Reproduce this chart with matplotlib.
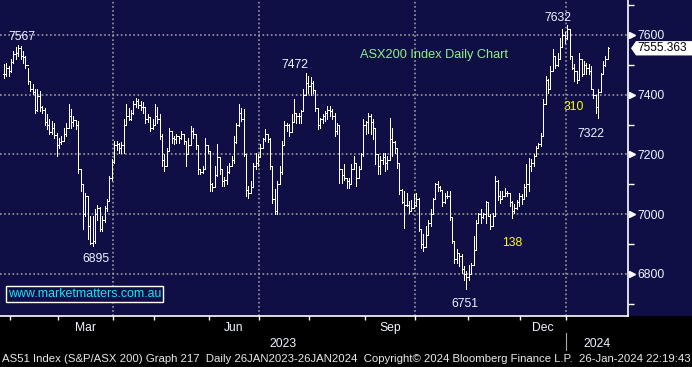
import matplotlib
matplotlib.use("Agg")
import matplotlib.pyplot as plt
import matplotlib.transforms as mtransforms
from matplotlib.collections import LineCollection
from matplotlib.patches import Polygon, Rectangle
import numpy as np
import pandas as pd

# ASX trading days: Australia Day, Easter, Anzac, King's birthday, Xmas, New Year off
HOLIDAYS = ["2023-04-07", "2023-04-10", "2023-04-25", "2023-06-12",
            "2023-12-25", "2023-12-26", "2024-01-01"]
dates = pd.bdate_range("2023-01-27", "2024-01-25", freq="C", holidays=HOLIDAYS)

highs = [
    7502, 7507, 7496, 7518, 7546, 7558, 7567, 7563, 7546, 7530,
    7490, 7445, 7435, 7418, 7418, 7412, 7362, 7356, 7334, 7317,
    7312, 7306, 7273, 7256, 7262, 7290, 7306, 7368, 7351, 7329,
    7315, 7312, 7150, 7100, 7072, 7060, 6993, 6993, 7016, 7030,
    7025, 6993, 7027, 7050, 7128, 7183, 7245, 7245, 7239, 7240,
    7320, 7368, 7357, 7350, 7380, 7390, 7385, 7378, 7375, 7360,
    7334, 7325, 7318, 7368, 7360, 7334, 7267, 7200, 7222, 7290,
    7280, 7262, 7267, 7262, 7278, 7270, 7245, 7256, 7295, 7289,
    7270, 7230, 7150, 7161, 7256, 7230, 7211, 7105, 7161, 7234,
    7190, 7150, 7125, 7161, 7172, 7194, 7262, 7306, 7368, 7356,
    7351, 7200, 7094, 7111, 7172, 7206, 7200, 7234, 7256, 7284,
    7270, 7256, 7161, 7083, 7111, 7161, 7245, 7312, 7306, 7301,
    7334, 7385, 7340, 7340, 7350, 7418, 7472, 7463, 7460, 7445,
    7415, 7356, 7323, 7334, 7345, 7362, 7362, 7351, 7340, 7306,
    7300, 7150, 7167, 7122, 7122, 7167, 7194, 7170, 7161, 7206,
    7318, 7312, 7340, 7334, 7317, 7290, 7200, 7194, 7206, 7206,
    7194, 7323, 7290, 7245, 7222, 7172, 7085, 7077, 7072, 7044,
    7049, 7066, 7070, 7055, 6950, 6932, 6960, 6982, 7016, 7055,
    7105, 7111, 7094, 7080, 7072, 7077, 7077, 6990, 6910, 6882,
    6870, 6865, 6826, 6810, 6831, 6837, 6926, 6982, 7005, 7016,
    7005, 7044, 7040, 6999, 7005, 7127, 7116, 7077, 7077, 7088, 7077,
    7072, 7044, 7033, 7049, 7072, 7066, 7100, 7167,
    7189, 7183, 7200, 7228, 7239, 7273, 7385, 7463, 7451, 7496,
    7552, 7530, 7541, 7591, 7619, 7610, 7632, 7620, 7530, 7502,
    7480, 7541, 7520, 7513, 7507, 7502, 7496, 7420, 7400, 7418,
    7474, 7513, 7530, 7558,
]
lows = [
    7457, 7462, 7463, 7475, 7505, 7518, 7530, 7518, 7507, 7490,
    7435, 7412, 7401, 7340, 7345, 7345, 7340, 7300, 7284, 7267,
    7270, 7256, 7195, 7222, 7234, 7245, 7262, 7290, 7290, 7295,
    7284, 7139, 7077, 6950, 6995, 6916, 6900, 6895, 6905, 6982,
    6943, 6945, 6975, 7010, 7045, 7116, 7172, 7215, 7205, 7205,
    7205, 7300, 7315, 7315, 7335, 7360, 7355, 7350, 7340, 7306,
    7310, 7278, 7284, 7300, 7306, 7250, 7161, 7144, 7160, 7210,
    7239, 7234, 7239, 7239, 7250, 7234, 7161, 7200, 7230, 7256,
    7217, 7133, 7133, 7139, 7150, 7206, 7077, 7077, 7090, 7128,
    7133, 7094, 7094, 7100, 7139, 7160, 7172, 7239, 7295, 7312,
    7195, 7060, 7055, 7070, 7090, 7150, 7161, 7190, 7220, 7245,
    7240, 7150, 7038, 7000, 7000, 7100, 7133, 7230, 7278, 7262,
    7275, 7310, 7306, 7306, 7306, 7345, 7400, 7407, 7400, 7405,
    7345, 7284, 7289, 7306, 7312, 7317, 7329, 7317, 7262, 7267,
    7105, 7105, 7116, 7088, 7088, 7100, 7150, 7094, 7120, 7150,
    7195, 7267, 7273, 7267, 7250, 7167, 7133, 7133, 7167, 7144,
    7150, 7180, 7195, 7206, 7155, 7066, 7038, 6955, 7027, 7005,
    7010, 7020, 7027, 6943, 6887, 6876, 6890, 6930, 6960, 7000,
    7050, 7077, 7077, 7027, 7038, 7055, 6982, 6904, 6837, 6837,
    6826, 6804, 6781, 6751, 6781, 6800, 6830, 6880, 6970, 6971,
    6988, 6971, 6993, 6949, 6960, 6995, 7049, 7038, 7050, 7060, 7060,
    7027, 6988, 7005, 7016, 7027, 7033, 7050, 7060,
    7077, 7144, 7161, 7194, 7220, 7228, 7262, 7370, 7407, 7420,
    7480, 7491, 7496, 7520, 7560, 7574, 7585, 7518, 7485, 7446,
    7440, 7450, 7463, 7468, 7468, 7468, 7418, 7390, 7340, 7322,
    7410, 7470, 7496, 7518,
]
closes = [
    7470, 7490, 7480, 7510, 7535, 7540, 7555, 7530, 7525, 7500,
    7445, 7420, 7410, 7350, 7395, 7360, 7350, 7310, 7300, 7275,
    7290, 7265, 7230, 7240, 7245, 7270, 7290, 7330, 7310, 7315,
    7300, 7150, 7100, 7000, 7060, 6960, 6905, 6910, 7000, 7020,
    6950, 6980, 7020, 7045, 7120, 7175, 7230, 7235, 7220, 7230,
    7300, 7330, 7320, 7340, 7370, 7380, 7365, 7360, 7360, 7320,
    7325, 7290, 7300, 7330, 7320, 7260, 7180, 7160, 7210, 7280,
    7255, 7250, 7260, 7255, 7270, 7245, 7200, 7230, 7280, 7270,
    7230, 7150, 7140, 7150, 7230, 7210, 7100, 7090, 7130, 7190,
    7150, 7110, 7115, 7140, 7160, 7180, 7240, 7300, 7340, 7320,
    7200, 7080, 7070, 7090, 7160, 7170, 7190, 7220, 7250, 7270,
    7250, 7160, 7050, 7010, 7100, 7140, 7230, 7300, 7300, 7275,
    7310, 7340, 7330, 7330, 7345, 7400, 7440, 7430, 7440, 7415,
    7355, 7300, 7320, 7330, 7340, 7350, 7345, 7330, 7280, 7300,
    7150, 7130, 7120, 7110, 7100, 7150, 7170, 7120, 7150, 7200,
    7300, 7310, 7330, 7310, 7290, 7200, 7160, 7180, 7190, 7170,
    7180, 7250, 7240, 7220, 7170, 7080, 7040, 7030, 7030, 7010,
    7020, 7030, 7050, 6950, 6900, 6890, 6930, 6970, 7000, 7050,
    7100, 7090, 7080, 7040, 7060, 7060, 6990, 6910, 6850, 6870,
    6860, 6815, 6800, 6790, 6800, 6830, 6880, 6970, 7000, 6990,
    7000, 7040, 6995, 6960, 6995, 7110, 7060, 7050, 7060, 7070, 7070,
    7040, 7010, 7020, 7040, 7060, 7050, 7090, 7100,
    7160, 7170, 7195, 7220, 7235, 7260, 7370, 7450, 7420, 7480,
    7530, 7500, 7520, 7560, 7600, 7590, 7620, 7530, 7490, 7480,
    7450, 7520, 7470, 7500, 7490, 7480, 7420, 7400, 7360, 7410,
    7470, 7500, 7520, 7555.363,
]

y_major = [6800, 7000, 7200, 7400, 7600]
y_minor = [6700, 6900, 7100, 7300, 7500, 7700]
month_names = {3: "Mar", 6: "Jun", 9: "Sep", 12: "Dec"}

# (text, x in bar index, baseline price, colour)
callouts = [
    ("7567", 7.6, 7583, "#eef3ff"),
    ("7472", 121.4, 7490, "#eef3ff"),
    ("6895", 38.4, 6839, "#eef3ff"),
    ("6751", 192.4, 6690, "#eef3ff"),
    ("7632", 231.2, 7648, "#eef3ff"),
    ("7322", 245.1, 7259, "#eef3ff"),
    ("310", 237.6, 7349, "#ffff00"),
    ("138", 212.0, 6895, "#ffff00"),
]

footer = ("AS51 Index (S&P/ASX 200) Graph 217  Daily 26JAN2023-26JAN2024  "
          "Copyright\u00a9 2024 Bloomberg Finance L.P.  26-Jan-2024 22:19:43")

NAVY = "#0f0f46"
W, H = 692, 367
plt.rcParams["font.family"] = ["Liberation Sans", "DejaVu Sans"]

fig = plt.figure(figsize=(W / 100, H / 100), dpi=100, facecolor="black")
fig.patches.append(Rectangle((0, 51 / H), 1, 1, transform=fig.transFigure,
                             facecolor=NAVY, edgecolor="none", zorder=-5))
ax = fig.add_axes([0, 51 / H, 628 / W, 316 / H])
ax.set_facecolor(NAVY)

n = len(closes)
x = np.arange(n)
opens = [closes[0]] + closes[:-1]
hw = 0.42
segs = []
for i in range(n):
    segs.append([(x[i], lows[i]), (x[i], highs[i])])
    segs.append([(x[i] - hw, opens[i]), (x[i], opens[i])])
    segs.append([(x[i], closes[i]), (x[i] + hw, closes[i])])
ax.add_collection(LineCollection(segs, colors="white", linewidths=0.7,
                                 antialiaseds=False, zorder=3))

ax.set_xlim(-1.63, 260.4)
ax.set_ylim(6659, 7717)

# month boundaries
dser = pd.Series(dates)
month_start = dser.groupby([dser.dt.year, dser.dt.month]).apply(lambda s: s.index[0])
bounds = [i - 0.5 for i in month_start.values if i > 0]
bound_months = list(month_start.index)[1:]
grid_style = dict(color="#9a9a9a", linestyle=(0, (1, 1.5)), linewidth=1.2, zorder=1)
for b, (yr, mo) in zip(bounds, bound_months):
    if mo in (1, 4, 7, 10):
        ax.axvline(b, **grid_style)
for v in y_major:
    ax.axhline(v, **grid_style)

ax.set_xticks(bounds)
ax.set_xticklabels([])
ax.tick_params(axis="x", direction="out", length=3, width=1, color="white")

ax.yaxis.tick_right()
ax.set_yticks(y_major)
ax.set_yticks(y_minor, minor=True)
ax.tick_params(axis="y", which="major", length=0, pad=7, labelsize=8.7,
               labelcolor="#eef3ff")
ax.tick_params(axis="y", which="minor", length=4, width=1, color="white")

for s in ("top", "left"):
    ax.spines[s].set_visible(False)
for s in ("bottom", "right"):
    ax.spines[s].set_color("white")
    ax.spines[s].set_linewidth(1.2)

# triangle markers on major ticks
yblend = mtransforms.blended_transform_factory(ax.transAxes, ax.transData)
ax.plot([1 + 4 / 628] * len(y_major), y_major, linestyle="none", marker=">",
        markersize=5, color="white", transform=yblend, clip_on=False, zorder=5)

# month and year labels
xblend = mtransforms.blended_transform_factory(ax.transData, ax.transAxes)
for (yr, mo), start in month_start.items():
    if mo in month_names:
        seg = dser[(dser.dt.year == yr) & (dser.dt.month == mo)].index
        mid = (seg[0] + seg[-1]) / 2
        ax.text(mid, -15 / 316, month_names[mo], transform=xblend, ha="center",
                va="baseline", color="#eef3ff", fontsize=8.7, clip_on=False)
year_break = [b for b, (yr, mo) in zip(bounds, bound_months) if mo == 1][0]
ax.text((ax.get_xlim()[0] + year_break) / 2, -31 / 316, "2023", transform=xblend,
        ha="center", va="baseline", color="#eef3ff", fontsize=8.7)
ax.text((ax.get_xlim()[1] + year_break) / 2, -31 / 316, "2024", transform=xblend,
        ha="center", va="baseline", color="#eef3ff", fontsize=8.7)
ax.plot([year_break, year_break], [-17 / 316, -34 / 316], transform=xblend,
        color="#aaaaaa", linewidth=0.8, clip_on=False)

# callouts
for txt, xi, yv, col in callouts:
    ax.text(xi, yv, txt, ha="center", va="baseline", color=col, fontsize=8.8, zorder=6)
ax.text(179.4, 7524, "ASX200 Index Daily Chart", ha="center", va="baseline",
        color="#8cf08c", fontsize=9.2, zorder=6)

# last price tag
last = closes[-1]
tag_h = 24
tag = Polygon([(1 + 3 / 628, last),
               (1 + 8 / 628, last + tag_h), (1 + 70 / 628, last + tag_h),
               (1 + 70 / 628, last - tag_h), (1 + 8 / 628, last - tag_h)],
              closed=True, transform=yblend, facecolor="white", edgecolor="none",
              clip_on=False, zorder=6)
ax.add_patch(tag)
ax.text(1 + 9 / 628, last, f"{last:.3f}", transform=yblend, ha="left", va="center",
        color="black", fontsize=8.6, zorder=7, clip_on=False)

# website box
fig.text(84.5 / W, 1 - 294 / H, "www.marketmatters.com.au", ha="center", va="center",
         color="#19e3f5", fontsize=8.9,
         bbox=dict(boxstyle="square,pad=0.15", facecolor=NAVY, edgecolor="white",
                   linewidth=1))

# footer, shrunk to fit the 688 px strip
ft = fig.text(2 / W, 1 - 362.5 / H, footer, ha="left", va="baseline",
              color="#e8e8e8", fontsize=8.4)
renderer = fig.canvas.get_renderer()
wpx = ft.get_window_extent(renderer).width
ft.set_fontsize(8.4 * 688 / wpx)

fig.savefig("out.png", dpi=100, facecolor="black")
